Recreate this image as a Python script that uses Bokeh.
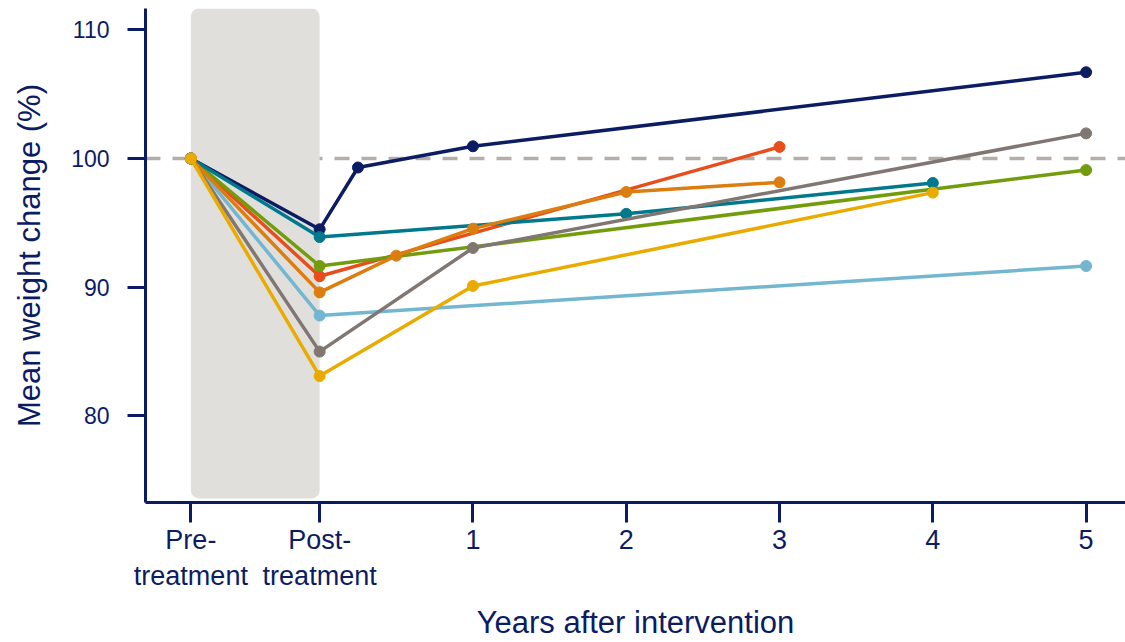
from bokeh.plotting import figure
from bokeh.models import BoxAnnotation, Span, FixedTicker, Range1d
from bokeh.embed import file_html
from bokeh.resources import INLINE

# ---- data ----
PRE = -0.84
tick_positions = [PRE, 0, 1, 2, 3, 4, 5]
tick_labels = ["Pre-\ntreatment", "Post-\ntreatment", "1", "2", "3", "4", "5"]
y_ticks = [80, 90, 100, 110]

navy_x = [PRE, 0, 0.25, 1, 5]
navy_y = [100, 94.5, 99.3, 100.95, 106.7]
red_x = [PRE, 0, 3]
red_y = [100, 90.85, 100.9]
green_x = [PRE, 0, 5]
green_y = [100, 91.65, 99.1]
lightblue_x = [PRE, 0, 5]
lightblue_y = [100, 87.8, 91.65]
teal_x = [PRE, 0, 2, 4]
teal_y = [100, 93.9, 95.7, 98.1]
gray_x = [PRE, 0, 1, 5]
gray_y = [100, 85.0, 93.05, 101.95]
orange_x = [PRE, 0, 0.5, 1, 2, 3]
orange_y = [100, 89.6, 92.45, 94.55, 97.4, 98.15]
yellow_x = [PRE, 0, 1, 4]
yellow_y = [100, 83.1, 90.1, 97.35]

series = [
    (navy_x, navy_y, "#0c1c63"),
    (red_x, red_y, "#e84e1b"),
    (green_x, green_y, "#739c0c"),
    (lightblue_x, lightblue_y, "#72b6cf"),
    (teal_x, teal_y, "#00798c"),
    (gray_x, gray_y, "#807672"),
    (orange_x, orange_y, "#dc7d0f"),
    (yellow_x, yellow_y, "#eaab00"),
]

NAVY = "#0c1c63"
FONT = "Liberation Sans"

p = figure(width=1125, height=642, output_backend="svg", toolbar_location=None,
           x_range=Range1d(-1.136, 5.257), y_range=Range1d(73.28, 111.65),
           min_border_left=145, min_border_right=0, min_border_top=8, min_border_bottom=139)
p.outline_line_color = None
p.xgrid.visible = False
p.ygrid.visible = False
p.background_fill_color = "white"

ref = Span(location=100, dimension="width", line_color="#b4aea8", line_width=3.5,
           line_dash="15 12", level="underlay")
p.add_layout(ref)
shade = BoxAnnotation(left=PRE, right=0, bottom=73.6, fill_color="#e0dfdb", fill_alpha=1,
                      line_color=None, border_radius=8, level="underlay")
p.add_layout(shade)

for xs, ys, c in series:
    p.line(xs, ys, line_color=c, line_width=3.5)
    p.scatter(xs, ys, size=11, fill_color=c, line_color=c)

for ax in (p.xaxis[0], p.yaxis[0]):
    ax.axis_line_color = NAVY
    ax.axis_line_width = 3
    ax.major_tick_line_color = NAVY
    ax.major_tick_line_width = 3
    ax.minor_tick_line_color = None
    ax.major_tick_in = 0
    ax.major_label_text_color = NAVY
    ax.major_label_text_font = FONT
    ax.axis_label_text_color = NAVY
    ax.axis_label_text_font = FONT
    ax.axis_label_text_font_style = "normal"
    ax.axis_label_text_font_size = "31px"

p.xaxis.ticker = FixedTicker(ticks=tick_positions)
p.xaxis.major_label_overrides = {t: l for t, l in zip(tick_positions, tick_labels)}
p.xaxis.major_tick_out = 20
p.xaxis.major_label_standoff = 2
p.xaxis.major_label_text_font_size = "27px"
p.xaxis.axis_label = "Years after intervention"
p.xaxis.axis_label_standoff = 11

p.yaxis.ticker = FixedTicker(ticks=y_ticks)
p.yaxis.major_tick_out = 18
p.yaxis.major_label_standoff = 18
p.yaxis.major_label_text_font_size = "23px"
p.yaxis.axis_label = "Mean weight change (%)"
p.yaxis.axis_label_standoff = 21

open("out.html", "w").write(file_html(p, INLINE))
